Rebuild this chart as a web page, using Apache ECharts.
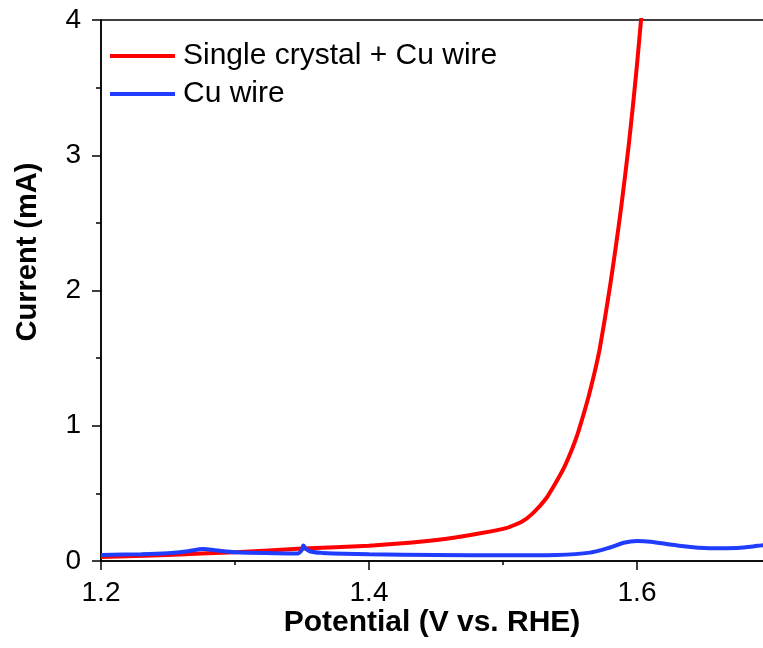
<!DOCTYPE html>
<html>
<head>
<meta charset="utf-8">
<script src="https://cdn.jsdelivr.net/npm/echarts@6/dist/echarts.min.js"></script>
<style>html,body{margin:0;padding:0;background:#fff}#c{width:763px;height:648px}</style>
</head>
<body>
<div id="c"></div>
<script>
var seriesNames = ['Single crystal + Cu wire', 'Cu wire'];
var xTickLabels = ['1.2', '1.4', '1.6'];
var yTickLabels = ['0', '1', '2', '3', '4'];
var crystalX = [1.20, 1.25, 1.30, 1.35, 1.40, 1.43, 1.458, 1.483, 1.503, 1.514, 1.522, 1.532, 1.540, 1.546, 1.552, 1.556, 1.560, 1.564, 1.568, 1.572, 1.576, 1.580, 1.584, 1.588, 1.591, 1.594, 1.597, 1.600, 1.603, 1.606];
var crystalY = [0.030, 0.045, 0.065, 0.092, 0.113, 0.135, 0.165, 0.205, 0.245, 0.29, 0.35, 0.46, 0.59, 0.70, 0.84, 0.95, 1.08, 1.22, 1.38, 1.56, 1.79, 2.04, 2.31, 2.60, 2.84, 3.09, 3.37, 3.67, 4.00, 4.33];
var cuX = [1.20, 1.23, 1.25, 1.265, 1.276, 1.285, 1.30, 1.33, 1.347, 1.350, 1.351, 1.353, 1.357, 1.365, 1.40, 1.45, 1.50, 1.54, 1.565, 1.58, 1.59, 1.60, 1.61, 1.63, 1.654, 1.675, 1.69, 1.70];
var cuY = [0.045, 0.050, 0.058, 0.072, 0.088, 0.080, 0.065, 0.058, 0.056, 0.085, 0.115, 0.09, 0.068, 0.060, 0.050, 0.045, 0.042, 0.045, 0.062, 0.10, 0.135, 0.148, 0.143, 0.115, 0.095, 0.097, 0.112, 0.125];

function pairs(xs, ys) { return xs.map(function (x, i) { return [x, ys[i]]; }); }

var FONT = '"Liberation Sans", Arial, sans-serif';
var chart = echarts.init(document.getElementById('c'), null, {renderer: 'canvas'});
chart.setOption({
  animation: false,
  backgroundColor: '#fff',
  grid: {left: 101, right: -142, top: 20, bottom: 87, outerBoundsMode: 'none', containLabel: false,
         show: true, borderColor: '#000', borderWidth: 1.5, backgroundColor: 'transparent'},
  legend: {
    orient: 'vertical', left: 105, top: 36, itemWidth: 65, itemHeight: 4, itemGap: 8, icon: 'rect',
    data: seriesNames,
    textStyle: {fontFamily: FONT, fontSize: 30, color: '#000', lineHeight: 30, padding: [0, 0, 0, 3]}
  },
  xAxis: {
    type: 'value', min: 1.2, max: 1.8, interval: 0.2,
    axisLine: {show: true, lineStyle: {color: '#000', width: 1.5}},
    axisTick: {show: true, inside: false, length: 9, lineStyle: {color: '#000', width: 1.5}},
    minorTick: {show: true, splitNumber: 2, length: 4, lineStyle: {color: '#000', width: 1.5}},
    axisLabel: {
      show: true, margin: 18, showMaxLabel: false, fontFamily: FONT, fontSize: 28, color: '#000',
      formatter: function (v) { var s = v.toFixed(1); return xTickLabels.indexOf(s) >= 0 ? s : ''; }
    },
    splitLine: {show: false}
  },
  yAxis: {
    type: 'value', min: 0, max: 4, interval: 1,
    axisLine: {show: true, lineStyle: {color: '#000', width: 1.5}},
    axisTick: {show: true, inside: false, length: 9, lineStyle: {color: '#000', width: 1.5}},
    minorTick: {show: true, splitNumber: 2, length: 5, lineStyle: {color: '#000', width: 1.5}},
    axisLabel: {
      margin: 20, fontFamily: FONT, fontSize: 28, color: '#000',
      formatter: function (v) { var s = String(Math.round(v)); return yTickLabels.indexOf(s) >= 0 ? s : ''; }
    },
    splitLine: {show: false}
  },
  graphic: [{
    type: 'text', x: 28, y: 252, rotation: Math.PI / 2,
    style: {text: 'Current (mA)', fontFamily: FONT, fontSize: 29, fontWeight: 'bold', fill: '#000', align: 'center', verticalAlign: 'middle'}
  }, {
    type: 'text', x: 432, y: 623,
    style: {text: 'Potential (V vs. RHE)', fontFamily: FONT, fontSize: 30, fontWeight: 'bold', fill: '#000', align: 'center', verticalAlign: 'middle'}
  }],
  series: [{
    name: seriesNames[0], type: 'line', data: pairs(crystalX, crystalY),
    showSymbol: false, smooth: 0.15, clip: true,
    lineStyle: {color: '#ff0000', width: 4, join: 'round'}, itemStyle: {color: '#ff0000'}, z: 3
  }, {
    name: seriesNames[1], type: 'line', data: pairs(cuX, cuY),
    showSymbol: false, smooth: 0.3, clip: true,
    lineStyle: {color: '#1f3cff', width: 4}, itemStyle: {color: '#1f3cff'}, z: 4
  }]
});
</script>
</body>
</html>
